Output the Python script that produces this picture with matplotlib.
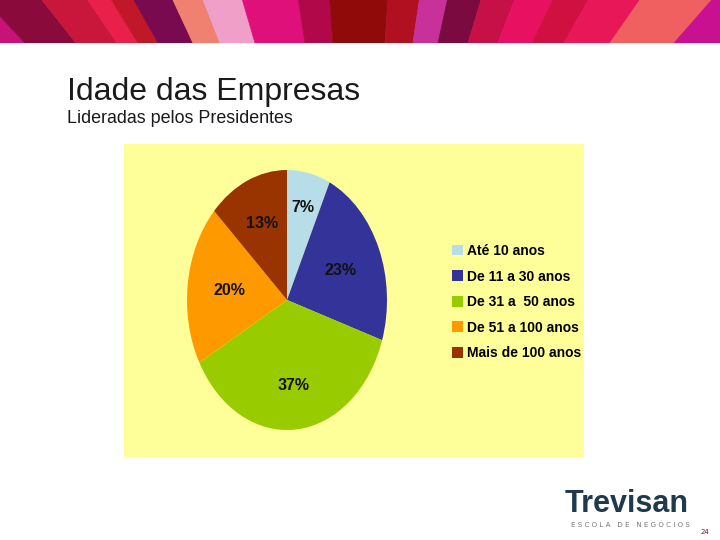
import numpy as np
import matplotlib.pyplot as plt
from matplotlib.patches import Polygon

# dados do grafico
faixas = ['Até 10 anos', 'De 11 a 30 anos', 'De 31 a  50 anos', 'De 51 a 100 anos', 'Mais de 100 anos']
percentuais = [7, 23, 37, 20, 13]
cores = ['#B7DEE8', '#333399', '#99CC00', '#FF9900', '#993300']
# distancia de cada rotulo ao centro (fracao do raio)
dist_rotulo = [0.73, 0.58, 0.66, 0.58, 0.64]

# faixa decorativa do topo (cores das listras)
cores_topo = ['#C8127A', '#8B0A3C', '#C8173A', '#E8204A', '#C01828', '#7A0A50', '#F08070',
              '#F0A0C8', '#E0107A', '#B00848', '#900A0A', '#B01020', '#C8309A', '#7A0A40',
              '#C81048', '#E81060', '#D01040', '#E81858', '#F06060', '#C81090']
bordas_topo = [0, 25, 76, 117, 138, 158, 193, 220, 255, 305, 333, 385, 413, 438, 468,
               498, 532, 564, 610, 674, 720]

W, H = 720, 540
fig = plt.figure(figsize=(7.2, 5.4), dpi=100)
fig.patch.set_facecolor('white')

# banner
ban = fig.add_axes([0, 1 - 43 / H, 1, 43 / H])
ban.set_xlim(0, W)
ban.set_ylim(43, 0)
ban.axis('off')
k = 1.12
for i, c in enumerate(cores_topo):
    x0, x1 = bordas_topo[i], bordas_topo[i + 1]
    t0 = 360 + (x0 - 360) * k
    t1 = 360 + (x1 - 360) * k
    if i == 0:
        t0 = -50
    if i == len(cores_topo) - 1:
        t1 = W + 50
    ban.add_patch(Polygon([(x0, 43), (x1, 43), (t1, 0), (t0, 0)], closed=True,
                          facecolor=c, edgecolor=c, lw=0.5))

# titulo
fig.text(67 / W, 1 - 100 / H, 'Idade das Empresas', fontsize=23, family='Liberation Sans',
         color='#1A1A1A', va='baseline')
fig.text(67 / W, 1 - 123 / H, 'Lideradas pelos Presidentes', fontsize=12.9, family='Liberation Sans',
         color='#1A1A1A', va='baseline')

# painel amarelo
painel = fig.add_axes([124 / W, 1 - 457 / H, 460 / W, 313 / H])
painel.set_facecolor('#FFFF99')
painel.set_xticks([])
painel.set_yticks([])
for s in painel.spines.values():
    s.set_visible(False)

fonte = ['Liberation Sans Narrow', 'Liberation Sans']

# pizza
ax = fig.add_axes([187 / W, 1 - 430 / H, 200 / W, 260 / H])
wedges, textos, pcts = ax.pie(percentuais, colors=cores, startangle=90, counterclock=False,
                              autopct='%d%%', pctdistance=0.64,
                              wedgeprops={'linewidth': 0},
                              textprops={'fontsize': 11.5, 'fontweight': 'bold',
                                         'family': fonte, 'color': '#111111'})
for w, t, r in zip(wedges, pcts, dist_rotulo):
    ang = np.deg2rad((w.theta1 + w.theta2) / 2)
    t.set_position((r * np.cos(ang), r * np.sin(ang)))
ax.set_aspect('auto')
ax.set_xlim(-1, 1)
ax.set_ylim(-1, 1)

fig.legend(wedges, faixas, loc='upper left', bbox_to_anchor=(452 / W, 1 - 244 / H),
           frameon=False, borderaxespad=0, borderpad=0, handlelength=0.8, handleheight=0.8,
           handletextpad=0.25, labelspacing=0.83,
           prop={'size': 10, 'weight': 'bold', 'family': fonte})

# logo
fig.text(565 / W, 1 - 512 / H, 'Trevisan', fontsize=22, fontweight='bold', family='Liberation Sans',
         color='#1E3A4C', va='baseline')
fig.text(571 / W, 1 - 527 / H, 'E S C O L A   D E   N E G Ó C I O S', fontsize=5.1, family='DejaVu Sans',
         color='#777777', va='baseline')
fig.text(705 / W, 1 - 534 / H, '24', fontsize=5, color='#7A1030', ha='center', va='baseline')

fig.savefig('out.png', dpi=100)
